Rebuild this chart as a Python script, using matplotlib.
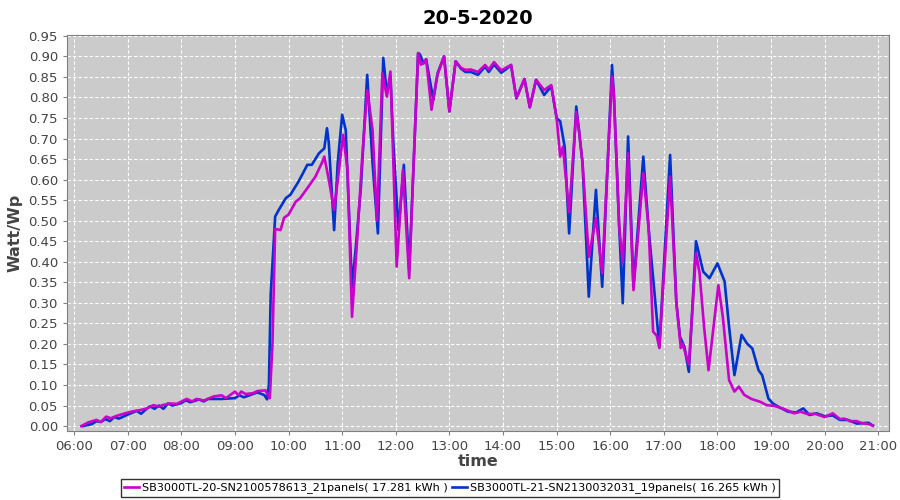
import matplotlib
matplotlib.use("Agg")
import matplotlib.pyplot as plt
import matplotlib.dates as mdates
from datetime import datetime

# SB3000TL-20 (magenta)
t_a = ["06:08", "06:16", "06:25", "06:30", "06:36", "06:41", "06:48", "06:57", "07:06",
       "07:12", "07:20", "07:29", "07:35", "07:39", "07:48", "07:55", "08:06", "08:12",
       "08:17", "08:25", "08:36", "08:45", "08:50", "09:00", "09:04", "09:07", "09:12",
       "09:20", "09:25", "09:34", "09:39", "09:42", "09:45", "09:51", "09:55", "10:00",
       "10:08", "10:13", "10:21", "10:30", "10:38", "10:40", "10:45", "10:51", "10:56",
       "11:01", "11:06", "11:11", "11:17", "11:22", "11:28", "11:34", "11:39", "11:45",
       "11:50", "11:54", "12:01", "12:08", "12:15", "12:20", "12:25", "12:28", "12:31",
       "12:34", "12:40", "12:46", "12:54", "13:00", "13:07", "13:13", "13:18", "13:24",
       "13:32", "13:40", "13:44", "13:50", "13:58", "14:03", "14:09", "14:15", "14:24",
       "14:30", "14:37", "14:46", "14:54", "15:00", "15:04", "15:07", "15:14", "15:22",
       "15:25", "15:29", "15:36", "15:44", "15:51", "16:02", "16:04", "16:10", "16:14",
       "16:20", "16:26", "16:37", "16:43", "16:48", "16:52", "16:55", "17:07", "17:14",
       "17:19", "17:21", "17:28", "17:36", "17:40", "17:45", "17:50", "18:01", "18:06",
       "18:13", "18:19", "18:24", "18:30", "18:38", "18:48", "18:55", "19:04", "19:14",
       "19:26", "19:33", "19:41", "19:49", "20:00", "20:09", "20:17", "20:22", "20:28",
       "20:36", "20:42", "20:49", "20:54"]
w_a = [0.000, 0.009, 0.015, 0.010, 0.023, 0.019, 0.025, 0.031, 0.036,
       0.038, 0.042, 0.051, 0.047, 0.051, 0.055, 0.054, 0.066, 0.060,
       0.066, 0.062, 0.072, 0.075, 0.068, 0.084, 0.075, 0.084, 0.078,
       0.080, 0.085, 0.087, 0.068, 0.200, 0.480, 0.477, 0.507, 0.515,
       0.546, 0.555, 0.579, 0.607, 0.644, 0.656, 0.600, 0.526, 0.616,
       0.709, 0.624, 0.266, 0.461, 0.640, 0.818, 0.721, 0.500, 0.859,
       0.802, 0.863, 0.388, 0.624, 0.360, 0.640, 0.908, 0.880, 0.883,
       0.893, 0.770, 0.851, 0.900, 0.766, 0.888, 0.872, 0.867, 0.868,
       0.862, 0.879, 0.868, 0.886, 0.866, 0.872, 0.879, 0.798, 0.845,
       0.776, 0.843, 0.818, 0.830, 0.750, 0.656, 0.680, 0.520, 0.765,
       0.720, 0.640, 0.412, 0.506, 0.372, 0.851, 0.810, 0.486, 0.397,
       0.664, 0.331, 0.616, 0.480, 0.230, 0.220, 0.190, 0.607, 0.300,
       0.190, 0.201, 0.149, 0.421, 0.372, 0.242, 0.136, 0.343, 0.266,
       0.112, 0.084, 0.096, 0.076, 0.066, 0.059, 0.051, 0.049, 0.042,
       0.031, 0.035, 0.029, 0.030, 0.022, 0.031, 0.017, 0.018, 0.012,
       0.012, 0.007, 0.005, 0.001]

# SB3000TL-21 (blue)
t_b = ["06:10", "06:16", "06:20", "06:25", "06:30", "06:35", "06:40", "06:45", "06:50",
       "07:00", "07:10", "07:15", "07:20", "07:25", "07:30", "07:35", "07:40", "07:45",
       "07:50", "08:00", "08:05", "08:10", "08:20", "08:25", "08:30", "08:45", "09:00",
       "09:05", "09:10", "09:20", "09:25", "09:30", "09:33", "09:36", "09:38", "09:40",
       "09:45", "09:49", "09:57", "10:02", "10:10", "10:15", "10:21", "10:26", "10:34",
       "10:40", "10:43", "10:45", "10:51", "10:55", "11:00", "11:04", "11:11", "11:15",
       "11:21", "11:28", "11:34", "11:40", "11:46", "11:50", "11:54", "11:57", "12:03",
       "12:09", "12:15", "12:20", "12:25", "12:27", "12:31", "12:34", "12:42", "12:47",
       "12:54", "13:00", "13:07", "13:13", "13:18", "13:24", "13:32", "13:40", "13:44",
       "13:50", "13:58", "14:03", "14:09", "14:15", "14:24", "14:30", "14:37", "14:46",
       "14:54", "15:00", "15:04", "15:09", "15:14", "15:22", "15:25", "15:29", "15:36",
       "15:44", "15:51", "16:02", "16:04", "16:10", "16:14", "16:20", "16:26", "16:37",
       "16:43", "16:55", "17:07", "17:14", "17:18", "17:23", "17:28", "17:36", "17:44",
       "17:51", "18:00", "18:08", "18:13", "18:19", "18:27", "18:33", "18:39", "18:46",
       "18:50", "18:57", "19:02", "19:09", "19:19", "19:28", "19:36", "19:43", "19:51",
       "20:00", "20:09", "20:17", "20:26", "20:36", "20:49", "20:54"]
w_b = [0.000, 0.003, 0.005, 0.012, 0.010, 0.017, 0.012, 0.022, 0.018,
       0.028, 0.037, 0.030, 0.040, 0.048, 0.042, 0.050, 0.042, 0.055,
       0.050, 0.056, 0.063, 0.058, 0.065, 0.060, 0.066, 0.066, 0.068,
       0.075, 0.070, 0.078, 0.082, 0.078, 0.075, 0.065, 0.100, 0.320,
       0.510, 0.526, 0.555, 0.563, 0.591, 0.611, 0.636, 0.636, 0.664,
       0.676, 0.725, 0.690, 0.477, 0.640, 0.758, 0.720, 0.339, 0.429,
       0.583, 0.855, 0.640, 0.469, 0.896, 0.810, 0.851, 0.700, 0.477,
       0.636, 0.380, 0.640, 0.908, 0.905, 0.883, 0.893, 0.794, 0.860,
       0.900, 0.766, 0.888, 0.870, 0.862, 0.862, 0.855, 0.875, 0.862,
       0.880, 0.860, 0.868, 0.879, 0.798, 0.845, 0.776, 0.843, 0.806,
       0.827, 0.750, 0.742, 0.680, 0.469, 0.778, 0.720, 0.640, 0.315,
       0.575, 0.339, 0.879, 0.810, 0.486, 0.299, 0.705, 0.339, 0.656,
       0.480, 0.193, 0.660, 0.300, 0.218, 0.193, 0.132, 0.450, 0.376,
       0.360, 0.396, 0.352, 0.242, 0.124, 0.222, 0.201, 0.189, 0.136,
       0.124, 0.067, 0.055, 0.046, 0.035, 0.033, 0.043, 0.027, 0.031,
       0.024, 0.026, 0.015, 0.015, 0.006, 0.008, 0.001]

label_a = "SB3000TL-20-SN2100578613_21panels( 17.281 kWh )"
label_b = "SB3000TL-21-SN2130032031_19panels( 16.265 kWh )"
day = "2020-05-20"

def to_dt(ts):
    return [datetime.strptime(day + " " + s, "%Y-%m-%d %H:%M") for s in ts]

fig = plt.figure(figsize=(9, 5), dpi=100)
ax = fig.add_axes([0.0744, 0.138, 0.9134, 0.792])
ax.set_facecolor("#cbcbcb")

ax.plot(to_dt(t_a), w_a, color="#cc00cc", lw=1.9, label=label_a, zorder=3)
ax.plot(to_dt(t_b), w_b, color="#0033cc", lw=1.9, label=label_b, zorder=2)

ax.set_xlim(datetime(2020, 5, 20, 5, 52), datetime(2020, 5, 20, 21, 12))
ax.set_ylim(-0.012, 0.952)
ax.set_yticks([i * 0.05 for i in range(20)])
ax.yaxis.set_major_formatter(plt.FuncFormatter(lambda v, p: f"{v:.2f}"))
ax.xaxis.set_major_locator(mdates.HourLocator())
ax.xaxis.set_major_formatter(mdates.DateFormatter("%H:%M"))

ax.grid(True, color="white", ls=(0, (3, 2)), lw=0.8)
ax.set_axisbelow(True)
for sp in ax.spines.values():
    sp.set_color("#808080")
ax.tick_params(colors="#444444", labelsize=9.5, length=3, color="#808080")

ax.set_title("20-5-2020", fontsize=14, fontweight="bold", pad=8)
ax.set_xlabel("time", fontsize=11.5, fontweight="bold", color="#444444", labelpad=1)
ax.set_ylabel("Watt/Wp", fontsize=11.5, fontweight="bold", color="#444444", labelpad=4)

leg = fig.legend(loc="center", bbox_to_anchor=(0.5, 0.024), ncol=2, fontsize=8.1,
                 frameon=True, fancybox=False, handlelength=1.3, handletextpad=0.3,
                 columnspacing=0.4, borderpad=0.3)
leg.get_frame().set_edgecolor("black")
leg.get_frame().set_linewidth(1.0)

fig.savefig("out.png", dpi=100)
